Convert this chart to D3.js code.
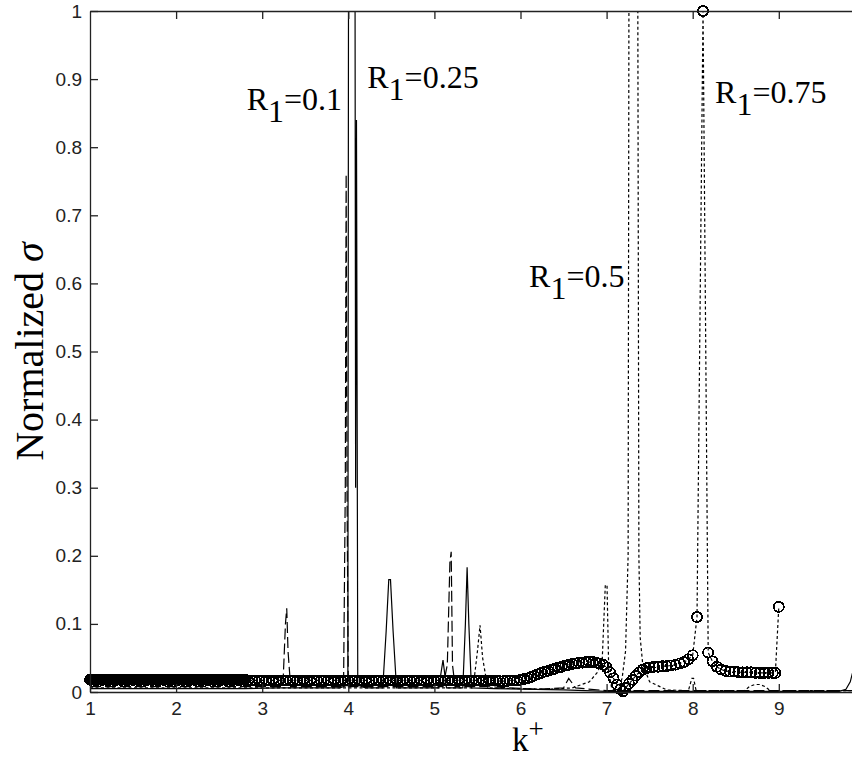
<!DOCTYPE html>
<html>
<head>
<meta charset="utf-8">
<script src="https://cdn.jsdelivr.net/npm/d3@7"></script>
<style>
  body { margin: 0; background: #fff; }
  svg { display: block; background: #fff; }
  .tick text { font-family: "Liberation Sans", Arial, sans-serif; font-size: 19px; fill: #222; }
  .tick line, .domain { stroke: #222; stroke-width: 1.3; }
  .serif { font-family: "Liberation Serif", "Times New Roman", serif; fill: #000; }
</style>
</head>
<body>
<div id="plot-area"></div>
<script>
// Normalized sigma vs k+ for four R1 values (MATLAB style figure)

const kTicks = [1, 2, 3, 4, 5, 6, 7, 8, 9];
const sigmaTicks = [0, 0.1, 0.2, 0.3, 0.4, 0.5, 0.6, 0.7, 0.8, 0.9, 1];

// R1 = 0.1, dashed
const r010K = [1, 3.0, 3.24, 3.27, 3.285, 3.30, 3.33, 3.9, 3.945, 3.965, 3.975, 3.985, 4.0, 4.2,
  5.1, 5.15, 5.18, 5.195, 5.21, 5.24, 5.6, 6.2, 6.5, 6.56, 6.64, 7.0, 8.0, 9.86];
const r010S = [0.008, 0.008, 0.008, 0.1, 0.123, 0.06, 0.008, 0.008, 0.01, 0.3, 0.76, 0.3, 0.008, 0.008,
  0.008, 0.04, 0.19, 0.206, 0.04, 0.008, 0.008, 0.004, 0.006, 0.02, 0.006, 0.002, 0.002, 0.002];

// R1 = 0.25, solid
const r025K = [1, 2.8, 3.2, 3.9, 3.995, 4.005, 4.075, 4.085, 4.095, 4.11, 4.2, 4.4, 4.44, 4.47, 4.49,
  4.52, 4.56, 4.8, 5.05, 5.1, 5.14, 5.33, 5.36, 5.38, 5.40, 5.43, 5.7, 6.5, 7.0, 8.0, 9.0, 9.7, 9.78,
  9.83, 9.86];
const r025S = [0.005, 0.005, 0.006, 0.006, 0.01, 1.4, 1.4, 0.3, 0.84, 0.01, 0.006, 0.006, 0.09, 0.165,
  0.165, 0.09, 0.006, 0.006, 0.006, 0.047, 0.006, 0.006, 0.1, 0.183, 0.1, 0.006, 0.005, 0.003, 0.001,
  0.001, 0.001, 0.001, 0.004, 0.015, 0.03];

// R1 = 0.5, dotted
const r050K = [1, 5.45, 5.50, 5.53, 5.56, 5.62, 6.0, 6.3, 6.6, 6.8, 6.9, 6.95, 6.985, 7.005, 7.025,
  7.06, 7.12, 7.18, 7.22, 7.25, 7.265, 7.355, 7.375, 7.39, 7.42, 7.5, 7.7, 7.95, 7.99, 8.01, 8.04, 8.3,
  8.6, 8.66, 8.72, 8.78, 8.84, 8.9, 9.86];
const r050S = [0.006, 0.006, 0.06, 0.098, 0.05, 0.006, 0.005, 0.004, 0.006, 0.015, 0.03, 0.05, 0.157,
  0.157, 0.03, 0.005, 0, 0.02, 0.06, 0.2, 1.5, 1.5, 0.2, 0.08, 0.04, 0.015, 0.003, 0.002, 0.02, 0.02,
  0.002, 0.002, 0.002, 0.008, 0.011, 0.011, 0.008, 0.002, 0.002];

// R1 = 0.75, dotted with circle markers
const r075K = [
  1.00, 1.02, 1.04, 1.06, 1.08, 1.10, 1.12, 1.14, 1.16, 1.18, 1.20, 1.22, 1.24, 1.26, 1.28, 1.30,
  1.32, 1.34, 1.36, 1.38, 1.40, 1.42, 1.44, 1.46, 1.48, 1.50, 1.52, 1.54, 1.56, 1.58, 1.60, 1.62,
  1.64, 1.66, 1.68, 1.70, 1.72, 1.74, 1.76, 1.78, 1.80, 1.82, 1.84, 1.86, 1.88, 1.90, 1.92, 1.94,
  1.96, 1.98, 2.00, 2.02, 2.04, 2.06, 2.08, 2.10, 2.12, 2.14, 2.16, 2.18, 2.20, 2.22, 2.24, 2.26,
  2.28, 2.30, 2.32, 2.34, 2.36, 2.38, 2.40, 2.42, 2.44, 2.46, 2.48, 2.50, 2.52, 2.54, 2.56, 2.58,
  2.60, 2.62, 2.64, 2.66, 2.68, 2.70, 2.72, 2.74, 2.76, 2.78, 2.80,
  2.84, 2.88, 2.92, 2.96, 3.00, 3.04, 3.08, 3.12, 3.16, 3.20, 3.24, 3.28, 3.32, 3.36, 3.40, 3.44,
  3.48, 3.52, 3.56, 3.60, 3.64, 3.68, 3.72, 3.76, 3.80, 3.84, 3.88, 3.92, 3.96, 4.00, 4.04, 4.08,
  4.12, 4.16, 4.20, 4.24, 4.28, 4.32, 4.36, 4.40, 4.44, 4.48, 4.52, 4.56, 4.60, 4.64, 4.68, 4.72,
  4.76, 4.80, 4.84, 4.88, 4.92, 4.96, 5.00, 5.04, 5.08, 5.12, 5.16, 5.20, 5.24, 5.28, 5.32, 5.36,
  5.40, 5.44, 5.48, 5.52, 5.56, 5.60, 5.64, 5.68, 5.72, 5.76, 5.80, 5.84, 5.88, 5.92, 5.96,
  6.00, 6.04, 6.08, 6.12, 6.16, 6.20, 6.24, 6.28, 6.32, 6.36, 6.40, 6.44, 6.48, 6.52, 6.56, 6.60,
  6.64, 6.68, 6.72, 6.76, 6.80, 6.84, 6.88, 6.92, 6.96, 7.00, 7.04, 7.08, 7.12, 7.16, 7.19, 7.22,
  7.26, 7.30, 7.34, 7.38, 7.42, 7.46, 7.50, 7.55, 7.60, 7.65, 7.70, 7.75, 7.80, 7.85, 7.90, 7.95,
  8.00, 8.05, 8.12, 8.18, 8.23, 8.28, 8.33, 8.38, 8.43, 8.48, 8.53, 8.58, 8.63, 8.68, 8.73, 8.78,
  8.83, 8.88, 8.93, 8.96, 9.00];
const r075S = [
  0.018, 0.018, 0.018, 0.018, 0.018, 0.018, 0.018, 0.018, 0.018, 0.018, 0.018, 0.018, 0.018, 0.018, 0.018, 0.018,
  0.018, 0.018, 0.018, 0.018, 0.018, 0.018, 0.018, 0.018, 0.018, 0.018, 0.018, 0.018, 0.018, 0.018, 0.018, 0.018,
  0.018, 0.018, 0.018, 0.018, 0.018, 0.018, 0.018, 0.018, 0.018, 0.018, 0.018, 0.018, 0.018, 0.018, 0.018, 0.018,
  0.018, 0.018, 0.018, 0.018, 0.018, 0.018, 0.018, 0.018, 0.018, 0.018, 0.018, 0.018, 0.018, 0.018, 0.018, 0.018,
  0.018, 0.018, 0.018, 0.018, 0.018, 0.018, 0.018, 0.018, 0.018, 0.018, 0.018, 0.018, 0.018, 0.018, 0.018, 0.018,
  0.018, 0.018, 0.018, 0.018, 0.018, 0.018, 0.018, 0.018, 0.018, 0.018, 0.018,
  0.017, 0.017, 0.017, 0.017, 0.017, 0.017, 0.017, 0.017, 0.017, 0.017, 0.017, 0.017, 0.017, 0.017, 0.017, 0.017,
  0.017, 0.017, 0.017, 0.017, 0.017, 0.017, 0.017, 0.017, 0.017, 0.017, 0.017, 0.017, 0.017, 0.017, 0.017, 0.017,
  0.017, 0.017, 0.017, 0.017, 0.017, 0.017, 0.017, 0.017, 0.017, 0.017, 0.017, 0.017, 0.017, 0.017, 0.017, 0.017,
  0.017, 0.017, 0.017, 0.017, 0.017, 0.017, 0.017, 0.017, 0.017, 0.017, 0.017, 0.017, 0.017, 0.017, 0.017, 0.017,
  0.017, 0.017, 0.017, 0.017, 0.017, 0.017, 0.017, 0.017, 0.017, 0.016, 0.016, 0.016, 0.017, 0.017, 0.017,
  0.018, 0.019, 0.020, 0.022, 0.024, 0.026, 0.028, 0.030, 0.031, 0.033, 0.034, 0.036, 0.037, 0.039, 0.040, 0.041,
  0.042, 0.043, 0.043, 0.044, 0.044, 0.044, 0.043, 0.042, 0.040, 0.036, 0.029, 0.020, 0.011, 0.004, 0.001, 0.006,
  0.012, 0.018, 0.024, 0.029, 0.033, 0.035, 0.036, 0.037, 0.037, 0.038, 0.038, 0.039, 0.040, 0.042, 0.044, 0.048,
  0.054, 0.110, 1.000, 0.058, 0.045, 0.037, 0.033, 0.031, 0.030, 0.030, 0.029, 0.029, 0.029, 0.029, 0.028, 0.028,
  0.028, 0.028, 0.028, 0.028, 0.125];

// Text annotations, anchored in data units
const annoText = ["0.1", "0.25", "0.5", "0.75"];
const annoK = [2.82, 4.22, 6.10, 8.26];
const annoS = [0.855, 0.887, 0.595, 0.865];

const series = [
  { k: r010K, s: r010S, dash: "11,4", markers: false },
  { k: r025K, s: r025S, dash: null, markers: false },
  { k: r050K, s: r050S, dash: "3,2.5", markers: false },
  { k: r075K, s: r075S, dash: "3,2.5", markers: true }];

const width = 852, height = 758;
const svg = d3.select("#plot-area").
append("svg").
attr("width", width).
attr("height", height);

// axes box: xlim [1 11] (right part cropped off), ylim [0 1]
const x = d3.scaleLinear().domain([1, 11]).range([90, 951]);
const y = d3.scaleLinear().domain([0, 1]).range([692, 11]);

svg.append("clipPath").
attr("id", "plot-clip").
append("rect").
attr("x", x(1)).
attr("y", y(1)).
attr("width", x(11) - x(1)).
attr("height", y(0) - y(1));

// Lines
const line = d3.line().
x(d => x(d[0])).
y(d => y(d[1]));

svg.append("g").
attr("clip-path", "url(#plot-clip)").
selectAll("path").
data(series).
join("path").
attr("d", d => line(d3.zip(d.k, d.s))).
attr("fill", "none").
attr("stroke", "#000").
attr("stroke-width", 1.2).
attr("stroke-dasharray", d => d.dash);

// Circle markers, not clipped (as in MATLAB)
series.filter(d => d.markers).forEach(d => {
  svg.append("g").
  attr("shape-rendering", "crispEdges").
  selectAll("circle").
  data(d3.zip(d.k, d.s)).
  join("circle").
  attr("cx", p => x(p[0])).
  attr("cy", p => y(p[1])).
  attr("r", 5).
  attr("fill", "none").
  attr("stroke", "#000").
  attr("stroke-width", 1.8);
});

// Axes, ticks pointing inward
const fmt = v => v === 0 || v === 1 ? String(v) : v.toFixed(1);

svg.append("g").
attr("transform", `translate(0,${y(0)})`).
call(d3.axisBottom(x).tickValues(kTicks).tickSize(-8).tickSizeOuter(0).tickPadding(10).tickFormat(d3.format("d")));

svg.append("g").
attr("transform", `translate(0,${y(1)})`).
call(d3.axisTop(x).tickValues(kTicks.slice(1)).tickSize(-8).tickSizeOuter(0).tickFormat(""));

svg.append("g").
attr("transform", `translate(${x(1)},0)`).
call(d3.axisLeft(y).tickValues(sigmaTicks).tickSize(-8).tickSizeOuter(0).tickPadding(8).tickFormat(fmt));

// Axis labels
svg.append("text").
attr("class", "serif").
attr("transform", `translate(43,${(y(0) + y(1)) / 2}) rotate(-90)`).
attr("text-anchor", "middle").
style("font-size", "40px").
text("Normalized ").
append("tspan").
style("font-style", "italic").
text("σ");

const kl = svg.append("text").
attr("class", "serif").
attr("x", 512).
attr("y", 751).
style("font-size", "33px").
text("k");
kl.append("tspan").
attr("dy", -13).
style("font-size", "27px").
text("+");

// R1 annotations
annoText.forEach((t, i) => {
  const g = svg.append("text").
  attr("class", "serif").
  attr("x", x(annoK[i])).
  attr("y", y(annoS[i])).
  style("font-size", "32px");
  g.append("tspan").text("R");
  g.append("tspan").attr("dy", 12).text("1");
  g.append("tspan").attr("dy", -12).text("=" + t);
});
</script>
</body>
</html>
